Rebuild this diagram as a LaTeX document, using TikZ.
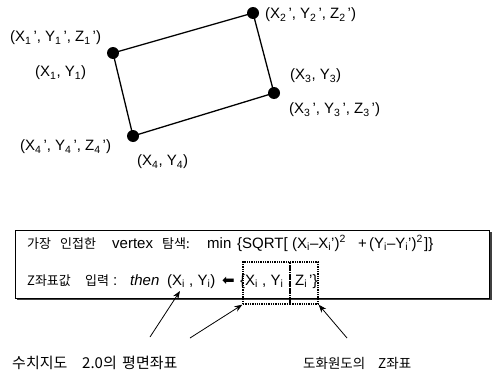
\documentclass[tikz,border=0pt]{standalone}
\usepackage{fontspec}
\setmainfont{Liberation Sans}
\newfontfamily\kr{Noto Sans CJK KR}
\newfontfamily\arrowfont{DejaVu Sans}
\usetikzlibrary{arrows.meta}
\newcommand\sbs[1]{\textsubscript{#1}}
\newcommand\sps[1]{\textsuperscript{#1}}
\newcommand\pr{\kern2pt'}
\tikzset{
  vtx/.style={circle,fill=black,inner sep=0pt,minimum size=12pt},
  edge/.style={line width=1.3pt},
  lbl/.style={inner sep=0pt,font=\fontsize{15}{17}\selectfont},
  frag/.style={lbl,anchor=base west},
  krfrag/.style={inner sep=0pt,anchor=base west,font=\kr\fontsize{13}{15}\selectfont},
  krbig/.style={inner sep=0pt,anchor=base west,font=\kr\fontsize{15}{17}\selectfont},
  krmid/.style={inner sep=0pt,anchor=base west,font=\kr\fontsize{13.5}{16}\selectfont},
  dotbox/.style={draw,line width=1.3pt,densely dotted,inner sep=0pt},
  ptr/.style={line width=0.8pt,-{Stealth[length=8pt,width=6pt]}},
}
\begin{document}
\begin{tikzpicture}[x=1pt,y=-1pt]
\useasboundingbox (0,0) rectangle (495,372);
% vertices
\node[vtx] (v1) at (113,53) {};
\node[vtx] (v2) at (253,13) {};
\node[vtx] (v3) at (274,93) {};
\node[vtx] (v4) at (133,136) {};
\draw[edge] (v1.center) -- (v2.center) -- (v3.center) -- (v4.center) -- cycle;
% vertex labels
\node[lbl,anchor=west] (l1a) at (10,38) {(X\sbs{1}\pr, Y\sbs{1}\pr, Z\sbs{1}\pr)};
\node[lbl,anchor=west] (l1b) at (35,73) {(X\sbs{1}, Y\sbs{1})};
\node[lbl,anchor=west] (l2a) at (265,15) {(X\sbs{2}\pr, Y\sbs{2}\pr, Z\sbs{2}\pr)};
\node[lbl,anchor=west] (l3b) at (290,76) {(X\sbs{3}, Y\sbs{3})};
\node[lbl,anchor=west] (l3a) at (289,110) {(X\sbs{3}\pr, Y\sbs{3}\pr, Z\sbs{3}\pr)};
\node[lbl,anchor=west] (l4a) at (20,147) {(X\sbs{4}\pr, Y\sbs{4}\pr, Z\sbs{4}\pr)};
\node[lbl,anchor=west] (l4b) at (137,162) {(X\sbs{4}, Y\sbs{4})};
% formula box with shadow
\fill[black!75] (17,232) rectangle (492,300);
\node[draw,line width=0.8pt,fill=white,minimum width=474pt,minimum height=68pt,inner sep=0pt] (box) at (252,264) {};
% line 1
\node[krfrag] (f1a) at (27,248) {가장};
\node[krfrag] (f1b) at (60,248) {인접한};
\node[frag] (f1c) at (112,248) {vertex};
\node[krfrag] (f1d) at (162,248) {탐색:};
\node[frag] (f1e) at (207,248) {min};
\node[frag] (f1f) at (237,248) {\{SQRT[};
\node[frag] (f1g) at (292,248) {(X\sbs{i}–X\sbs{i}')\sps{2}};
\node[frag] (f1h) at (358,248) {+};
\node[frag] (f1i) at (369,248) {(Y\sbs{i}–Y\sbs{i}')\sps{2}};
\node[frag] (f1j) at (424,248) {]\}};
% line 2
\node[krfrag] (f2a) at (27,285) {Z좌표값};
\node[krfrag] (f2b) at (85,285) {입력};
\node[frag] (f2c) at (113,285) {:};
\node[frag] (f2d) at (130,285) {\textit{then}};
\node[frag] (f2e) at (167,285) {(X\sbs{i} , Y\sbs{i})};
\node[frag] (f2f) at (222,285) {\arrowfont\fontsize{15}{17}\selectfont ⬅};
\node[frag] (f2g) at (240,285) {\{X\sbs{i} , Y\sbs{i} ,};
\node[frag] (f2h) at (295,285) {Z\sbs{i}\pr\}};
% dotted boxes
\node[dotbox,minimum width=47pt,minimum height=42pt] (db1) at (266.5,283) {};
\node[dotbox,minimum width=28pt,minimum height=42pt] (db2) at (304,283) {};
% bottom labels
\node[krbig] (b1a) at (12,368) {수치지도};
\node[krbig] (b1b) at (82,368) {2.0의};
\node[krbig] (b1c) at (122,368) {평면좌표};
\node[krmid] (b2a) at (303,368) {도화원도의};
\node[krmid] (b2b) at (378,368) {Z좌표};
% pointers
\coordinate (t1) at (150,337);
\coordinate (t2) at (190,338);
\coordinate (t3) at (347,338);
\coordinate (h1) at (180,291);
\draw[ptr] (t1) -- (h1);
\draw[ptr] (t2) -- (db1.south west);
\draw[ptr] (t3) -- (db2.south east);
\end{tikzpicture}
\end{document}
